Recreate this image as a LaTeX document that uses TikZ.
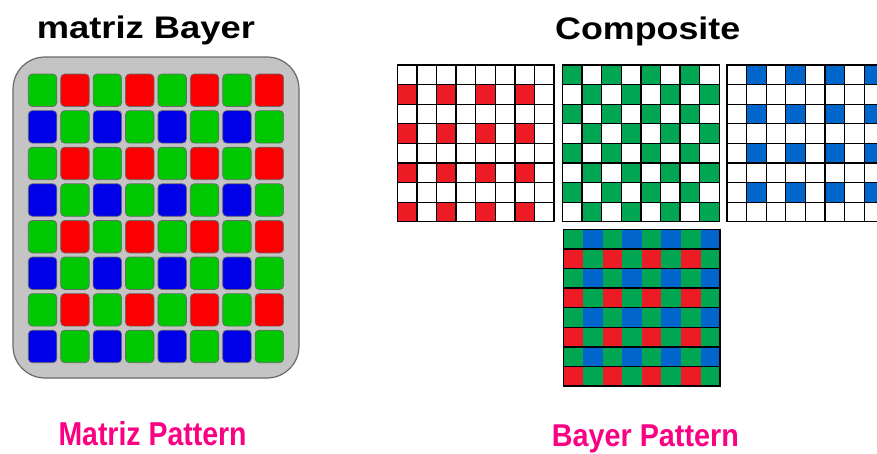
\documentclass[tikz,border=0pt]{standalone}
\usepackage{fontspec}
\setmainfont{Liberation Sans}
\usepackage{graphicx}
\usetikzlibrary{positioning}

\definecolor{plategray}{RGB}{196,196,196}
\definecolor{plateedge}{RGB}{105,105,105}
\definecolor{senG}{RGB}{0,200,0}
\definecolor{senR}{RGB}{250,0,0}
\definecolor{senB}{RGB}{0,0,232}
\definecolor{filR}{RGB}{237,28,36}
\definecolor{filG}{RGB}{0,166,81}
\definecolor{filB}{RGB}{0,102,204}
\definecolor{labpink}{RGB}{250,0,130}

\newcommand{\fitlabel}[3]{\resizebox{#1}{#2}{\bfseries #3}}

\tikzset{
  sensor/.style={draw=plateedge,line width=0.7pt,rounded corners=4pt},
  filcell/.style={draw=black,line width=1.3pt},
  caption/.style={inner sep=0pt,anchor=base west}
}

\begin{document}
\begin{tikzpicture}[x=1pt,y=-1pt]
\useasboundingbox (0,0) rectangle (877,453);
\clip (0,0) rectangle (877,453);

% sensor plate with 8x8 cells
\draw[draw=plateedge,fill=plategray,line width=1.2pt,rounded corners=32pt] (13,57) rectangle (299,378);
\foreach \r in {0,...,7}{
  \foreach \c in {0,...,7}{
    \pgfmathtruncatemacro{\k}{mod(\r,2)*2+mod(\c,2)}
    \ifcase\k \def\cc{senG}\or \def\cc{senR}\or \def\cc{senB}\or \def\cc{senG}\fi
    \pgfmathsetmacro{\xx}{28.3+32.4*\c}
    \pgfmathsetmacro{\yy}{74+36.6*\r}
    \draw[sensor,fill=\cc] (\xx,\yy) rectangle ({\xx+28.5},{\yy+32.5});
  }
}

% single colour planes
\foreach \r in {0,...,7}{
  \foreach \c in {0,...,7}{
    \pgfmathtruncatemacro{\k}{mod(\r,2)*2+mod(\c,2)}
    \pgfmathsetmacro{\yy}{65+19.6*\r}
    % red
    \pgfmathsetmacro{\xx}{397.3+19.6*\c}
    \ifnum\k=2 \def\cc{filR}\else \def\cc{white}\fi
    \draw[filcell,fill=\cc] (\xx,\yy) rectangle ({\xx+19.6},{\yy+19.6});
    % green
    \pgfmathsetmacro{\xx}{562.5+19.6*\c}
    \ifodd\k \ifnum\k=3 \def\cc{filG}\else \def\cc{white}\fi \else \ifnum\k=0 \def\cc{filG}\else \def\cc{white}\fi \fi
    \draw[filcell,fill=\cc] (\xx,\yy) rectangle ({\xx+19.6},{\yy+19.6});
    % blue
    \pgfmathsetmacro{\xx}{727+19.6*\c}
    \ifnum\k=1 \def\cc{filB}\else \def\cc{white}\fi
    \draw[filcell,fill=\cc] (\xx,\yy) rectangle ({\xx+19.6},{\yy+19.6});
  }
}

% composite mosaic
\foreach \r in {0,...,7}{
  \foreach \c in {0,...,7}{
    \pgfmathtruncatemacro{\k}{mod(\r,2)*2+mod(\c,2)}
    \ifcase\k \def\cc{filG}\or \def\cc{filB}\or \def\cc{filR}\or \def\cc{filG}\fi
    \pgfmathsetmacro{\xx}{563.3+19.6*\c}
    \pgfmathsetmacro{\yy}{229.3+19.6*\r}
    \fill[\cc] (\xx,\yy) rectangle ({\xx+19.6},{\yy+19.6});
  }
}
\foreach \r in {1,...,7}
  \draw[line width=1.3pt] (563.3,{229.3+19.6*\r}) -- (720.1,{229.3+19.6*\r});
\draw[line width=1.3pt] (563.3,229.3) rectangle (720.1,386.1);

% captions
\node[caption] (titleL) at (36.7,38.3) {\fitlabel{218pt}{22.6pt}{matriz Bayer}};
\node[caption] (titleR) at (555,39.3) {\fitlabel{185pt}{22.6pt}{Composite}};
\node[caption,text=labpink] (labL) at (58.3,445.5) {\fitlabel{188pt}{24pt}{Matriz Pattern}};
\node[caption,text=labpink] (labR) at (551.7,446) {\fitlabel{187pt}{21.7pt}{Bayer Pattern}};
\end{tikzpicture}
\end{document}
